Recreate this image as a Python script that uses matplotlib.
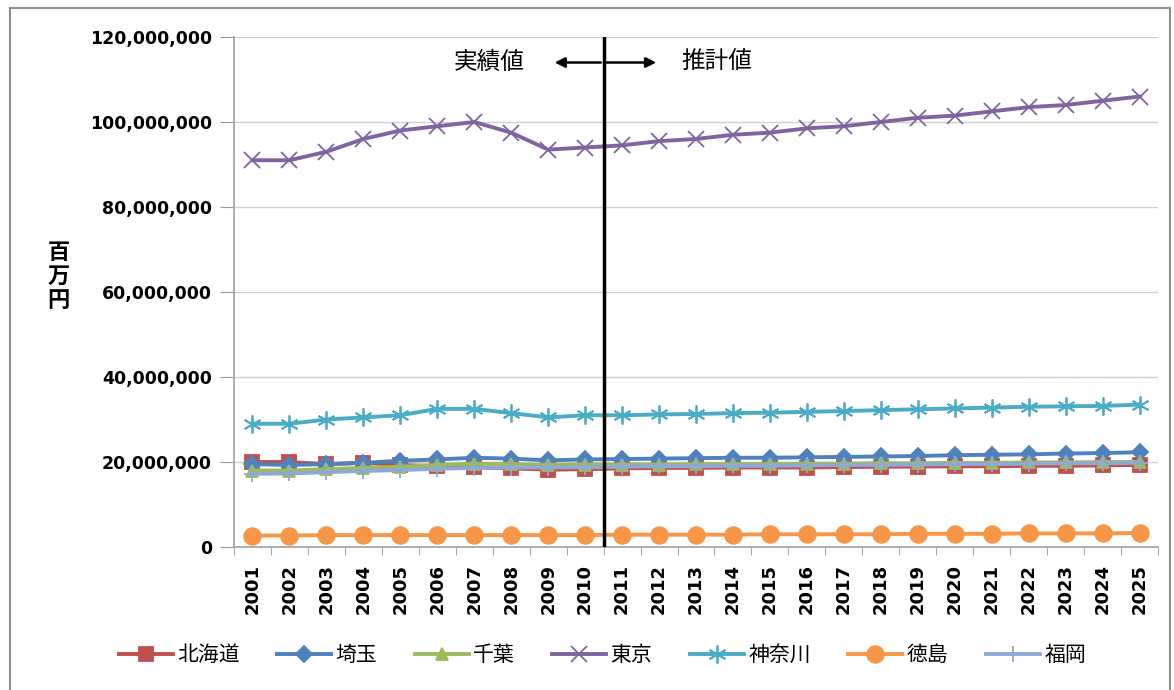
import numpy as np
import matplotlib.pyplot as plt
from matplotlib.patches import Rectangle
from matplotlib.ticker import FuncFormatter, MultipleLocator, FixedLocator

plt.rcParams['font.family'] = ['Noto Sans CJK JP', 'DejaVu Sans']

# 年次
years = [str(y) for y in range(2001, 2026)]

# 県内総生産 (百万円)
hokkaido = [20.0, 20.0, 19.5, 19.8, 19.3, 19.0, 18.8, 18.5, 18.2, 18.3, 18.5, 18.6, 18.6, 18.7,
            18.7, 18.7, 18.8, 18.9, 18.9, 19.0, 19.0, 19.1, 19.1, 19.2, 19.3]
saitama = [19.5, 19.3, 19.5, 19.8, 20.3, 20.6, 21.0, 20.8, 20.4, 20.6, 20.7, 20.8, 20.9, 21.0,
           21.0, 21.1, 21.2, 21.3, 21.4, 21.6, 21.7, 21.8, 22.0, 22.1, 22.3]
chiba = [18.0, 18.0, 18.3, 18.6, 18.9, 19.3, 19.6, 19.5, 19.3, 19.4, 19.4, 19.4, 19.5, 19.5,
         19.5, 19.6, 19.6, 19.7, 19.7, 19.8, 19.8, 19.9, 19.9, 20.0, 20.0]
tokyo = [91.0, 91.0, 93.0, 96.0, 98.0, 99.0, 100.0, 97.5, 93.5, 94.0, 94.5, 95.5, 96.0, 97.0,
         97.5, 98.5, 99.0, 100.0, 101.0, 101.5, 102.5, 103.5, 104.0, 105.0, 106.0]
kanagawa = [29.0, 29.0, 30.0, 30.5, 31.0, 32.5, 32.5, 31.5, 30.5, 31.0, 31.0, 31.2, 31.3, 31.5,
            31.6, 31.8, 32.0, 32.2, 32.4, 32.6, 32.8, 33.0, 33.1, 33.2, 33.5]
tokushima = [2.7, 2.7, 2.8, 2.8, 2.8, 2.8, 2.8, 2.8, 2.8, 2.8, 2.9, 2.9, 2.9, 2.9,
             3.0, 3.0, 3.0, 3.0, 3.1, 3.1, 3.1, 3.2, 3.2, 3.2, 3.3]
fukuoka = [17.2, 17.3, 17.6, 17.9, 18.1, 18.4, 18.6, 18.7, 18.7, 18.8, 18.9, 19.0, 19.0, 19.1,
           19.1, 19.2, 19.3, 19.3, 19.4, 19.5, 19.5, 19.6, 19.7, 19.7, 19.8]

names = ['北海道', '埼玉', '千葉', '東京', '神奈川', '徳島', '福岡']
series = [hokkaido, saitama, chiba, tokyo, kanagawa, tokushima, fukuoka]
colors = ['#C0504D', '#4F81BD', '#9BBB59', '#8064A2', '#4BACC6', '#F79646', '#8EA9D8']
markers = ['s', 'D', '^', 'x', (6, 2, 0), 'o', '+']
msizes = [10, 8, 9, 12, 13, 12, 12]

fig = plt.figure(figsize=(11.74, 6.90), dpi=100)
ax = fig.add_axes([234 / 1174, 1 - 547 / 690, (1158 - 234) / 1174, (547 - 37) / 690])

x = np.arange(len(years))
for name, vals, c, m, ms in zip(names, series, colors, markers, msizes):
    ax.plot(x, np.array(vals) * 1e6, color=c, lw=2.8, marker=m, markersize=ms,
            markeredgewidth=1.3, label=name)

ax.set_xlim(-0.5, len(years) - 0.5)
ax.set_ylim(0, 120e6)
ax.yaxis.set_major_locator(MultipleLocator(20e6))
ax.yaxis.set_major_formatter(FuncFormatter(lambda v, p: f'{int(v):,}'))
ax.grid(axis='y', color='#D0D0D0', lw=1.0)
ax.set_axisbelow(True)

ax.set_xticks(x)
ax.set_xticklabels(years, rotation=90, fontsize=13, fontweight='bold', family='DejaVu Sans')
ax.xaxis.set_minor_locator(FixedLocator(np.arange(-0.5, len(years), 1.0)))
ax.tick_params(axis='x', which='major', length=0, pad=12)
ax.tick_params(axis='x', which='minor', length=6, color='#999999', direction='out')
ax.tick_params(axis='y', length=10, color='#999999', pad=6)
for lb in ax.get_yticklabels():
    lb.set_fontweight('bold')
    lb.set_fontsize(12.5)
    lb.set_family('DejaVu Sans')

for s in ['top', 'right']:
    ax.spines[s].set_visible(False)
for s in ['left', 'bottom']:
    ax.spines[s].set_color('#A0A0A0')
    ax.spines[s].set_linewidth(1.2)

ax.set_ylabel('百\n万\n円', rotation=0, fontsize=16, fontweight='bold',
              linespacing=1.05, va='center')
ax.yaxis.set_label_coords(-0.19, 0.53)

# 実績値と推計値の境界
ax.axvline(9.5, color='black', lw=2.5, zorder=5)
ax.annotate('', xy=(8.1, 114e6), xytext=(9.5, 114e6),
            arrowprops=dict(arrowstyle='-|>', color='black', lw=1.8, mutation_scale=15))
ax.annotate('', xy=(11.0, 114e6), xytext=(9.5, 114e6),
            arrowprops=dict(arrowstyle='-|>', color='black', lw=1.8, mutation_scale=15))
ax.text(6.4, 114e6, '実績値', fontsize=17, ha='center', va='center')
ax.text(12.55, 114e6, '推計値', fontsize=17, ha='center', va='center')

fig.legend(loc='center', bbox_to_anchor=(0.513, 1 - 655 / 690), ncol=7, frameon=False,
           fontsize=15, handlelength=2.6, columnspacing=1.8, handletextpad=0.2)

fig.patches.append(Rectangle((10 / 1174, -0.02), 1160 / 1174, 1.02 - 8 / 690,
                             transform=fig.transFigure, fill=False,
                             edgecolor='#909090', lw=1.5))

fig.savefig('out.png', dpi=100)
